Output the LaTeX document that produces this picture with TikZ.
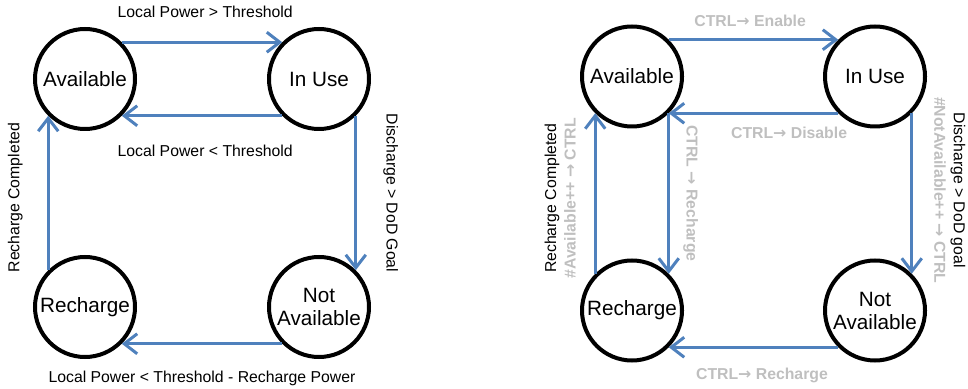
\documentclass[tikz,border=0pt]{standalone}
\usepackage{fontspec}
\setmainfont{Liberation Sans}
\newfontfamily\arrowfont{DejaVu Sans}
\usepackage{xcolor}
\usepackage{tikz}
\usetikzlibrary{positioning,arrows.meta}
\definecolor{flowblue}{RGB}{79,129,189}
\definecolor{ctrlgray}{RGB}{191,191,191}
\newcommand{\ctrlto}{{\arrowfont\bfseries →}}
\tikzset{
  mode state/.style={
    circle,
    draw=black,
    fill=white,
    line width=4pt,
    minimum size=100pt,
    inner sep=0pt,
    align=center,
    font=\fontsize{20.7}{23}\selectfont
  },
  arrow/.style={
    -{Straight Barb[length=13pt,width=20pt]},
    draw=flowblue,
    line width=3pt
  },
  cond label/.style={
    inner sep=0pt,
    font=\fontsize{15.8}{19.5}\selectfont
  },
  ctrl label/.style={
    cond label,
    text=ctrlgray,
    font=\fontsize{15.8}{19.5}\selectfont\bfseries
  }
}

\begin{document}
\begin{tikzpicture}[x=1pt, y=1pt, node distance=234pt]
  \useasboundingbox (0,0) rectangle (968,388);

  % Power-driven states
  \node[mode state] (lavail) at (85,309) {Available};
  \node[mode state, right of=lavail] (linuse) {In Use};
  \node[mode state, below of=lavail, yshift=6pt] (lrech) {Recharge};
  \node[mode state, below of=linuse, yshift=6pt] (lnotav) {Not\\Available};

  \draw[arrow] (lavail.north east) -- node[cond label, pos=0.52, above=23pt] {Local Power > Threshold} (linuse.north west);
  \draw[arrow] (linuse.south west) -- node[cond label, pos=0.48, below=28pt] {Local Power < Threshold} (lavail.south east);
  \draw[arrow] (linuse.south east) -- node[cond label, midway, sloped, above=26pt] {Discharge > DoD Goal} (lnotav.north east);
  \draw[arrow] (lnotav.south west) -- node[cond label, midway, below=26pt] {Local Power < Threshold - Recharge Power} (lrech.south east);
  \draw[arrow] (lrech.north west) -- node[cond label, pos=0.47, sloped, above=24pt] {Recharge Completed} (lavail.south west);

  % Controller-driven states
  \node[mode state] (ravail) at (632,311.5) {Available};
  \node[mode state, right of=ravail, xshift=9pt] (rinuse) {In Use};
  \node[mode state, below of=ravail] (rrech) {Recharge};
  \node[mode state, below of=rinuse] (rnotav) {Not\\Available};

  \draw[arrow] (ravail.north east) -- node[ctrl label, pos=0.48, above=12pt] {CTRL\ctrlto\ Enable} (rinuse.north west);
  \draw[arrow] (rinuse.south west) -- node[ctrl label, pos=0.29, below=12pt] {CTRL\ctrlto\ Disable} (ravail.south east);
  \draw[arrow] (ravail.south east) -- node[ctrl label, midway, sloped, above=13pt] {CTRL \ctrlto\ Recharge} (rrech.north east);
  \draw[arrow] (rinuse.south east) -- node[cond label, pos=0.48, sloped, above=21pt, align=center]
    {Discharge > DoD goal\\\textcolor{ctrlgray}{\bfseries\#NotAvailable++ \ctrlto\ CTRL}} (rnotav.north east);
  \draw[arrow] (rnotav.south west) -- node[ctrl label, pos=0.45, below=19pt] {CTRL\ctrlto\ Recharge} (rrech.south east);
  \draw[arrow] (rrech.north west) -- node[cond label, pos=0.47, sloped, above=18pt, align=center]
    {Recharge Completed\\\textcolor{ctrlgray}{\bfseries\#Available++ \ctrlto\ CTRL}} (ravail.south west);

\end{tikzpicture}
\end{document}
